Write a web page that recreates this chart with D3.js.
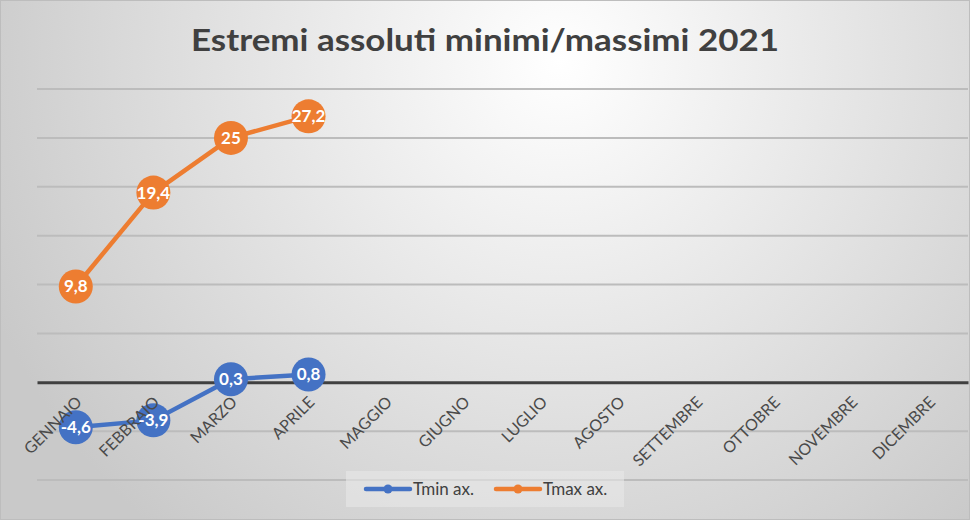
<!DOCTYPE html>
<html><head><meta charset="utf-8">
<script src="https://cdn.jsdelivr.net/npm/d3@7"></script>
<style>html,body{margin:0;padding:0;overflow:hidden;background:#fff}</style>
</head><body><svg id="c" width="970" height="520"></svg>
<script>
const months = ["GENNAIO","FEBBRAIO","MARZO","APRILE","MAGGIO","GIUGNO","LUGLIO","AGOSTO","SETTEMBRE","OTTOBRE","NOVEMBRE","DICEMBRE"];
const tminValues = [-4.6, -3.9, 0.3, 0.8];
const tmaxValues = [9.8, 19.4, 25, 27.2];
const yTicks = [-10, -5, 0, 5, 10, 15, 20, 25, 30];
const seriesNames = ["Tmin ax.", "Tmax ax."];
const seriesColors = ["#4472C4", "#ED7D31"];
const titleText = "Estremi assoluti minimi/massimi 2021";

const svg = d3.select("#c");
const W = 970, H = 520;
const defs = svg.append("defs");
const rg = defs.append("radialGradient").attr("id","bg")
  .attr("gradientUnits","userSpaceOnUse").attr("cx",560).attr("cy",60).attr("r",620);
rg.append("stop").attr("offset","0%").attr("stop-color","#ffffff");
rg.append("stop").attr("offset","100%").attr("stop-color","#c9c9c9");
svg.append("rect").attr("width",W).attr("height",H).attr("fill","url(#bg)");
svg.append("rect").attr("x",0.5).attr("y",0.5).attr("width",W-1).attr("height",H-1)
  .attr("fill","none").attr("stroke","#bdbdbd").attr("stroke-width",1);

const x = d3.scaleBand().domain(months).range([37, 968]);
const y = d3.scaleLinear().domain([-10, 30]).range([480, 89]);

// gridlines
svg.append("g").selectAll("line").data(yTicks.filter(d => d !== 0)).join("line")
  .attr("x1",37).attr("x2",968).attr("y1",d=>y(d)).attr("y2",d=>y(d))
  .attr("stroke","#bcbcbc").attr("stroke-width",2);

// zero axis line
const xAxis = d3.axisBottom(x).tickSize(0).tickPadding(0);
const ax = svg.append("g").attr("transform",`translate(0,${y(0)})`).call(xAxis);
ax.select(".domain").attr("stroke","#404040").attr("stroke-width",3);
ax.selectAll(".tick").remove();

// title
svg.append("text").attr("x",485).attr("y",51).attr("text-anchor","middle")
  .attr("font-family","Lato, 'Open Sans', sans-serif").attr("font-weight","bold")
  .attr("font-size",31).attr("fill","#404040")
  .attr("textLength",588).attr("lengthAdjust","spacingAndGlyphs")
  .text(titleText);

const fmt = v => String(v).replace(".", ",");
const line = d3.line().x((d,i)=>x(months[i])+x.bandwidth()/2).y(d=>y(d));
const labelLayers = [];
[tminValues, tmaxValues].forEach((vals, si) => {
  const g = svg.append("g");
  g.append("path").datum(vals).attr("d",line).attr("fill","none")
    .attr("stroke",seriesColors[si]).attr("stroke-width",4.5).attr("stroke-linejoin","round");
  g.selectAll("circle").data(vals).join("circle")
    .attr("cx",(d,i)=>x(months[i])+x.bandwidth()/2).attr("cy",d=>y(d))
    .attr("r",17).attr("fill",seriesColors[si]);
});

// category labels drawn over the series
const ax2 = svg.append("g").attr("transform",`translate(0,${y(0)})`).call(xAxis);
ax2.select(".domain").remove();
ax2.selectAll(".tick text")
  .attr("font-family","Lato, 'Open Sans', sans-serif").attr("font-size",16)
  .attr("fill","#4a4a4a").attr("text-anchor","end")
  .attr("dy",0).attr("y",0)
  .attr("transform","translate(7,21) rotate(-45)");

// data labels
[tminValues, tmaxValues].forEach((vals, si) => {
  svg.append("g").selectAll("text").data(vals).join("text")
    .attr("x",(d,i)=>x(months[i])+x.bandwidth()/2).attr("y",d=>y(d)+6)
    .attr("text-anchor","middle").attr("font-family","Lato, 'Open Sans', sans-serif")
    .attr("font-weight","bold").attr("font-size",17).attr("fill","#ffffff")
    .text(d=>fmt(d));
});

// legend
const lg = svg.append("g");
lg.append("rect").attr("x",346).attr("y",471).attr("width",278).attr("height",36)
  .attr("fill","rgba(232,232,232,0.6)");
const lx = [366, 496];
seriesNames.forEach((n, i) => {
  lg.append("line").attr("x1",lx[i]).attr("x2",lx[i]+44).attr("y1",489).attr("y2",489)
    .attr("stroke",seriesColors[i]).attr("stroke-width",4.5).attr("stroke-linecap","round");
  lg.append("circle").attr("cx",lx[i]+22).attr("cy",489).attr("r",4.5).attr("fill",seriesColors[i]);
  lg.append("text").attr("x",lx[i]+47).attr("y",495).attr("font-family","Lato, 'Open Sans', sans-serif")
    .attr("font-size",17).attr("fill","#404040").text(n);
});
</script></body></html>
